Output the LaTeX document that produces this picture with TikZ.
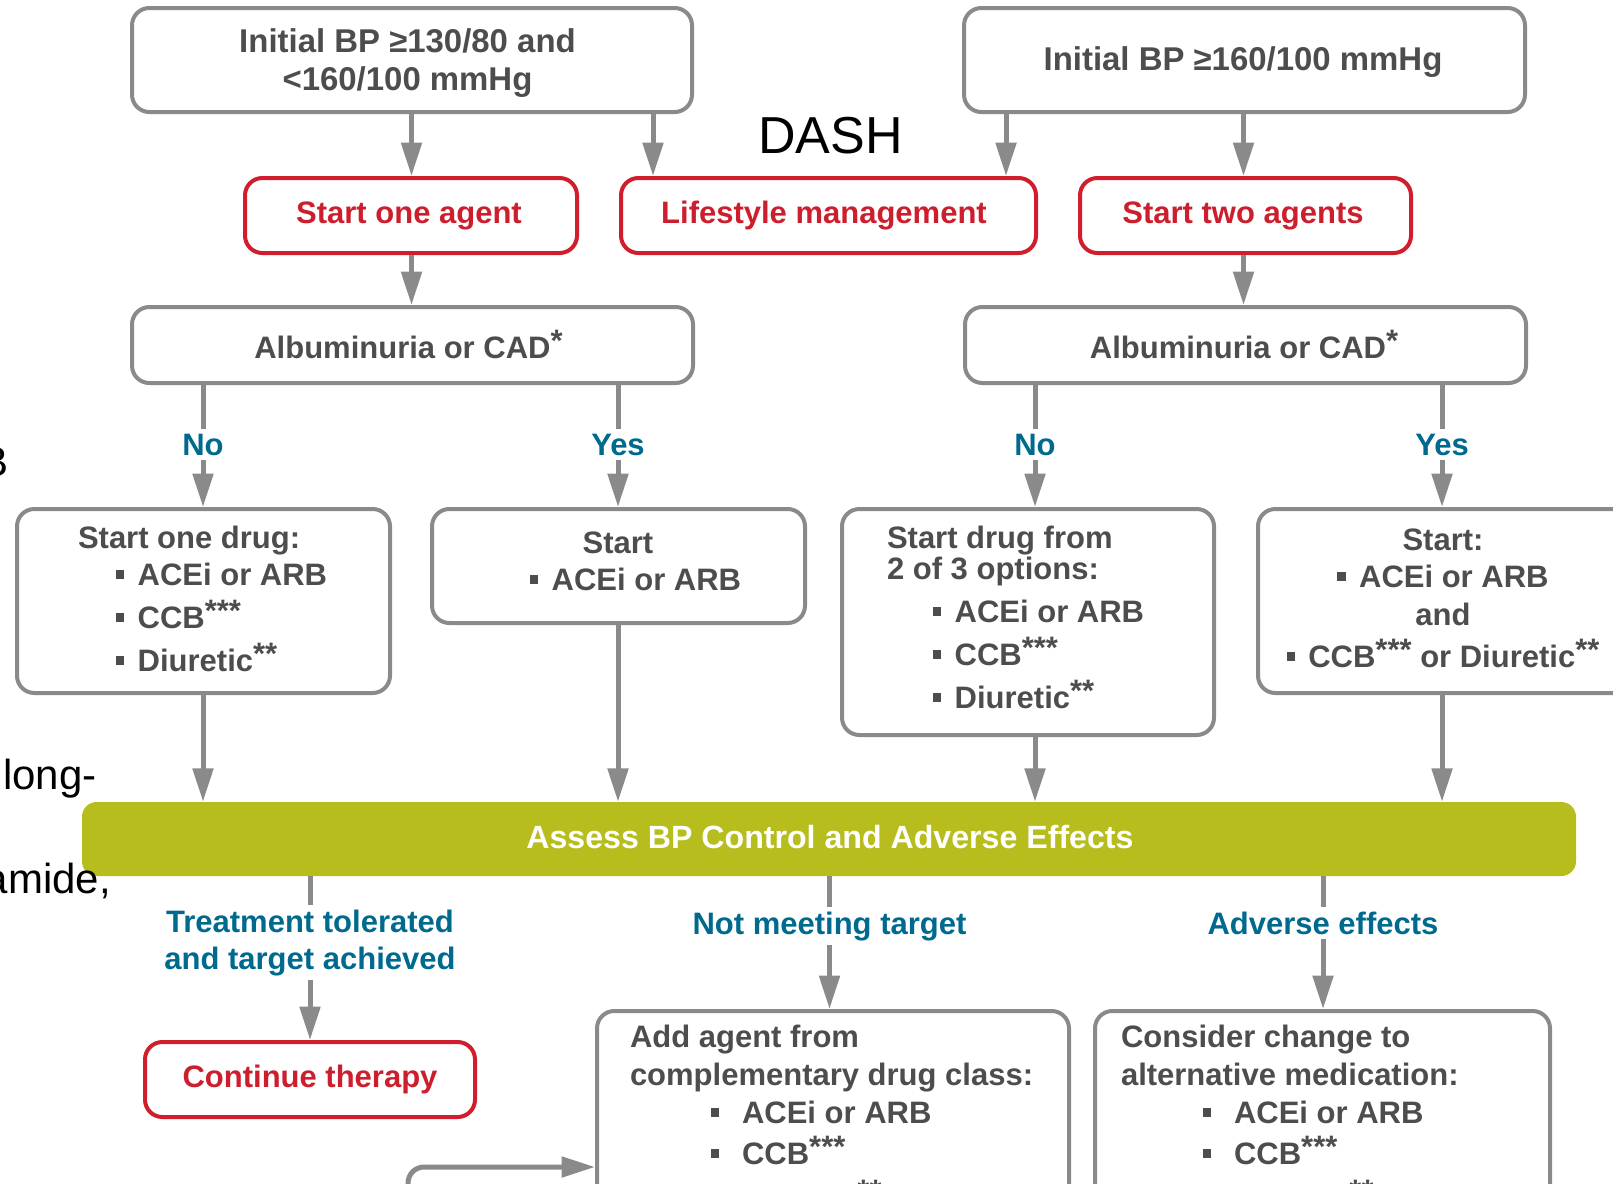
\documentclass[tikz,border=0pt]{standalone}
\usepackage{fontspec}
\setmainfont{Liberation Sans}
\usetikzlibrary{arrows.meta,fit}

\definecolor{boxgray}{RGB}{138,138,138}
\definecolor{txtgray}{RGB}{77,77,77}
\definecolor{arrgray}{RGB}{138,138,138}
\definecolor{redline}{RGB}{208,30,45}
\definecolor{redtxt}{RGB}{204,30,45}
\definecolor{tealtxt}{RGB}{0,106,142}
\definecolor{olive}{RGB}{182,189,29}

% small square bullet and raised asterisks
\newcommand\sqbul{\raisebox{0.2em}{\rule{0.27em}{0.27em}}}
\newcommand\starsup[1]{\raisebox{0.22em}{#1}}

\tikzset{
  flowfont/.style={font=\bfseries\fontsize{23.25}{28}\selectfont},
  bigfont/.style={font=\bfseries\fontsize{24.7}{30}\selectfont},
  graybox/.style={draw=boxgray, line width=3pt, rounded corners=13pt, fill=white, inner sep=0pt},
  redbox/.style={draw=redline, line width=3pt, rounded corners=13pt, fill=white, inner sep=0pt},
  bodytxt/.style={flowfont, text=txtgray, inner sep=0pt, outer sep=0pt},
  redlabel/.style={flowfont, text=redtxt, inner sep=0pt, outer sep=0pt},
  lbl/.style={flowfont, text=tealtxt, inner xsep=2pt, inner ysep=3.5pt, outer sep=0pt},
  frag/.style={font=\fontsize{31.5}{38}\selectfont, text=black, inner sep=0pt},
  conn/.style={draw=arrgray, line width=3.75pt},
  arr/.style={conn, -{Triangle[length=25pt,width=15pt]}},
}

\begin{document}
\begin{tikzpicture}[x=0.75pt,y=-0.75pt]
\useasboundingbox (0,0) rectangle (1613,1183);
\clip (0,0) rectangle (1613,1183);

% ---- boxes ----
\node[graybox, fit={(132,8) (692,112)}] (tl) {};
\node[graybox, fit={(964,8) (1525,112)}] (tr) {};
\node[redbox, fit={(245,178) (577,253)}] (soa) {};
\node[redbox, fit={(621,178) (1036,253)}] (lm) {};
\node[redbox, fit={(1080,178) (1411,253)}] (sta) {};
\node[graybox, fit={(132,307) (693,383)}] (albl) {};
\node[graybox, fit={(965,307) (1526,383)}] (albr) {};
\node[graybox, fit={(17,509) (390,693)}] (boxa) {};
\node[graybox, fit={(432,509) (805,623)}] (boxb) {};
\node[graybox, fit={(842,509) (1214,735)}] (boxc) {};
\node[graybox, fit={(1258,509) (1640,693)}] (boxd) {};
\node[fit={(82,802) (1576,876)}, fill=olive, rounded corners=11pt, inner sep=0pt] (bar) {};
\node[redbox, fit={(145,1042) (475,1117)}] (cont) {};
\node[graybox, fit={(597,1011) (1069,1260)}] (addb) {};
\node[graybox, fit={(1095,1011) (1550,1260)}] (altb) {};

% ---- texts in boxes ----
\node[bodytxt, bigfont, anchor=base] (tl1) at (407.5,52) {Initial BP ≥130/80 and};
\node[bodytxt, bigfont, anchor=base] (tl2) at (407.5,90) {<160/100 mmHg};
\node[bodytxt, bigfont, anchor=base] (tr1) at (1243,70) {Initial BP ≥160/100 mmHg};
\node[anchor=base west, inner sep=0pt, font=\fontsize{39}{46}\selectfont] (dash) at (758,153) {DASH};

\node[redlabel, anchor=base] (soat) at (409,223) {Start one agent};
\node[redlabel, anchor=base] (lmt) at (824,223) {Lifestyle management};
\node[redlabel, anchor=base] (stat) at (1243,223) {Start two agents};

\node[bodytxt, anchor=base] (albla) at (408.5,358) {Albuminuria or CAD\starsup{*}};
\node[bodytxt, anchor=base] (albra) at (1244,358) {Albuminuria or CAD\starsup{*}};

\node[bodytxt, anchor=base west] (a1) at (78,548) {Start one drug:};
\node[bodytxt, anchor=base west] (a2) at (116,585) {\sqbul\hspace{10pt}ACEi or ARB};
\node[bodytxt, anchor=base west] (a3) at (116,628) {\sqbul\hspace{10pt}CCB\starsup{***}};
\node[bodytxt, anchor=base west] (a4) at (116,671) {\sqbul\hspace{10pt}Diuretic\starsup{**}};

\node[bodytxt, anchor=base] (b1) at (618,553) {Start};
\node[bodytxt, anchor=base west] (b2) at (530,590) {\sqbul\hspace{10pt}ACEi or ARB};

\node[bodytxt, anchor=base west] (c1) at (887,548) {Start drug from};
\node[bodytxt, anchor=base west] (c2) at (887,579) {2 of 3 options:};
\node[bodytxt, anchor=base west] (c3) at (933,622) {\sqbul\hspace{10pt}ACEi or ARB};
\node[bodytxt, anchor=base west] (c4) at (933,665) {\sqbul\hspace{10pt}CCB\starsup{***}};
\node[bodytxt, anchor=base west] (c5) at (933,708) {\sqbul\hspace{10pt}Diuretic\starsup{**}};

\node[bodytxt, anchor=base] (d1) at (1443,550) {Start:};
\node[bodytxt, anchor=base] (d2) at (1443,587) {\sqbul\hspace{10pt}ACEi or ARB};
\node[bodytxt, anchor=base] (d3) at (1443,625) {and};
\node[bodytxt, anchor=base] (d4) at (1443,667) {\sqbul\hspace{10pt}CCB\starsup{***} or Diuretic\starsup{**}};

\node[font=\bfseries\fontsize{24.1}{29}\selectfont, text=white, anchor=base, inner sep=0pt] (bart) at (830,848) {Assess BP Control and Adverse Effects};

\node[redlabel, anchor=base] (contt) at (310,1087) {Continue therapy};

\node[bodytxt, anchor=base west] (e1) at (630,1047) {Add agent from};
\node[bodytxt, anchor=base west] (e2) at (630,1085) {complementary drug class:};
\node[bodytxt, anchor=base west] (e3) at (711,1123) {\sqbul\hspace{17pt}ACEi or ARB};
\node[bodytxt, anchor=base west] (e4) at (711,1164) {\sqbul\hspace{17pt}CCB\starsup{***}};
\node[bodytxt, anchor=base west] (e5) at (711,1208) {\sqbul\hspace{17pt}Diuretic\starsup{**}};

\node[bodytxt, anchor=base west] (f1) at (1121,1047) {Consider change to};
\node[bodytxt, anchor=base west] (f2) at (1121,1085) {alternative medication:};
\node[bodytxt, anchor=base west] (f3) at (1203,1123) {\sqbul\hspace{17pt}ACEi or ARB};
\node[bodytxt, anchor=base west] (f4) at (1203,1164) {\sqbul\hspace{17pt}CCB\starsup{***}};
\node[bodytxt, anchor=base west] (f5) at (1203,1208) {\sqbul\hspace{17pt}Diuretic\starsup{**}};

% ---- text fragments at the left edge ----
\node[frag, anchor=base east] (fb) at (9,476) {B};
\node[frag, anchor=base west] (fl) at (3,789) {long-};
\node[frag, anchor=base east] (fa) at (111,893) {amide,};

% ---- branch labels ----
\node[lbl, anchor=base] (no1) at (203,455) {No};
\node[lbl, anchor=base] (yes1) at (618,455) {Yes};
\node[lbl, anchor=base] (no2) at (1035,455) {No};
\node[lbl, anchor=base] (yes2) at (1442,455) {Yes};
\node[lbl, anchor=base] (ok1) at (310,932) {Treatment tolerated};
\node[lbl, anchor=base] (ok2) at (310,969) {and target achieved};
\node[lbl, anchor=base] (nmt) at (829.5,934) {Not meeting target};
\node[lbl, anchor=base] (adv) at (1323,934) {Adverse effects};

% ---- connector columns ----
\coordinate (xa) at (411.5,0);
\coordinate (xb) at (653,0);
\coordinate (xc) at (1006,0);
\coordinate (xd) at (1243.5,0);
\coordinate (xe) at (203,0);
\coordinate (xf) at (618,0);
\coordinate (xg) at (1035,0);
\coordinate (xh) at (1442,0);
\coordinate (xi) at (310,0);
\coordinate (xj) at (829.5,0);
\coordinate (xk) at (1323,0);

% ---- connectors ----
\draw[arr] (tl.south -| xa) -- (soa.north -| xa);
\draw[arr] (tl.south -| xb) -- (lm.north -| xb);
\draw[arr] (tr.south -| xc) -- (lm.north -| xc);
\draw[arr] (tr.south -| xd) -- (sta.north -| xd);
\draw[arr] (soa.south -| xa) -- (albl.north -| xa);
\draw[arr] (sta.south -| xd) -- (albr.north -| xd);

\draw[conn] (albl.south -| xe) -- (no1.north -| xe);
\draw[arr] (no1.south -| xe) -- (boxa.north -| xe);
\draw[conn] (albl.south -| xf) -- (yes1.north -| xf);
\draw[arr] (yes1.south -| xf) -- (boxb.north -| xf);
\draw[conn] (albr.south -| xg) -- (no2.north -| xg);
\draw[arr] (no2.south -| xg) -- (boxc.north -| xg);
\draw[conn] (albr.south -| xh) -- (yes2.north -| xh);
\draw[arr] (yes2.south -| xh) -- (boxd.north -| xh);

\draw[arr] (boxa.south -| xe) -- (bar.north -| xe);
\draw[arr] (boxb.south -| xf) -- (bar.north -| xf);
\draw[arr] (boxc.south -| xg) -- (bar.north -| xg);
\draw[arr] (boxd.south -| xh) -- (bar.north -| xh);

\draw[conn] (bar.south -| xi) -- (ok1.north -| xi);
\draw[arr] (ok2.south -| xi) -- (cont.north -| xi);
\draw[conn] (bar.south -| xj) -- (nmt.north -| xj);
\draw[arr] (nmt.south -| xj) -- (addb.north -| xj);
\draw[conn] (bar.south -| xk) -- (adv.north -| xk);
\draw[arr] (adv.south -| xk) -- (altb.north -| xk);

% loop-back arrow into the add-agent box
\coordinate (loopstart) at (408,1205);
\coordinate (loopturn) at (408,1167);
\draw[arr, rounded corners=12pt] (loopstart) -- (loopturn) -- (loopturn -| addb.west);
\end{tikzpicture}
\end{document}
